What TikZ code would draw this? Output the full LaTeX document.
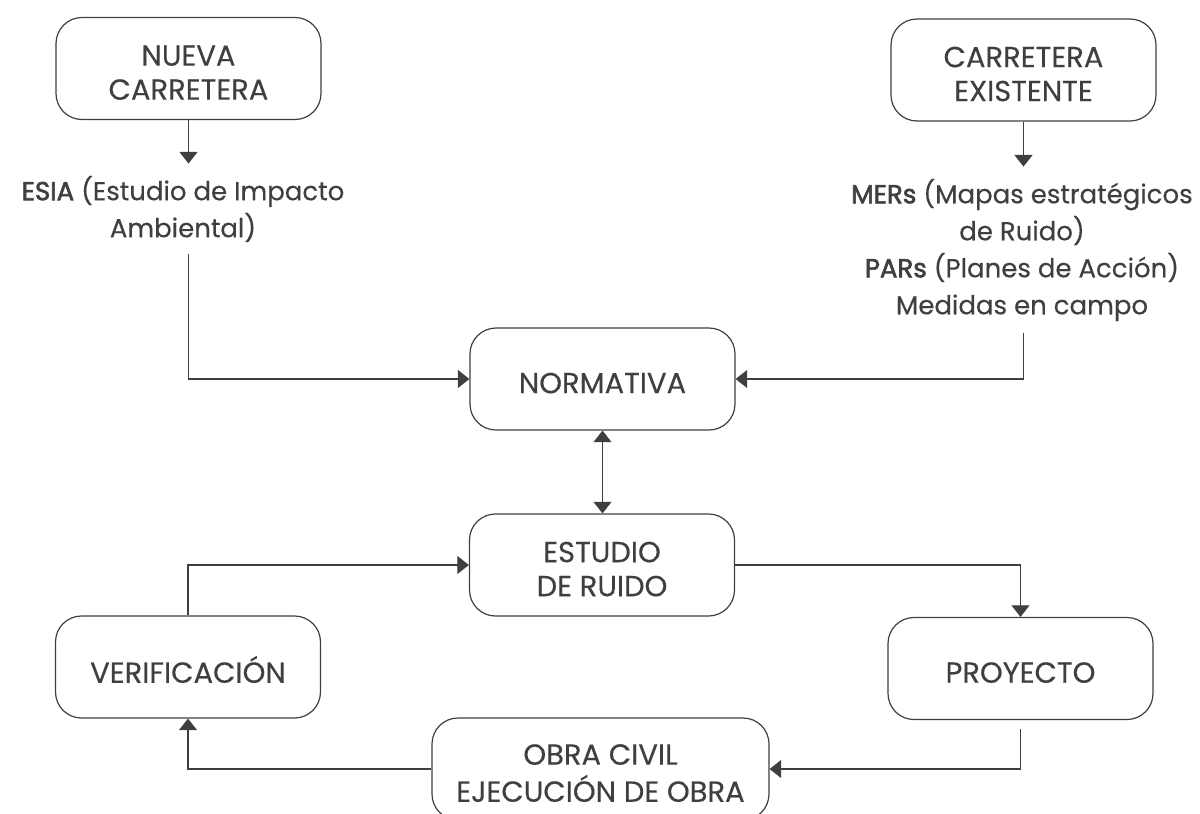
\documentclass[tikz,border=0pt]{standalone}
\usepackage{fontspec}
\setmainfont[FakeBold=0.3]{Poppins}
\newfontfamily\medfont[FakeBold=2.2]{Poppins}
\usetikzlibrary{arrows.meta}
\definecolor{ink}{HTML}{3F3F3F}
\newcommand\bxt[1]{\raisebox{-3.7pt}[\height][\depth]{\fontsize{14.5pt}{17pt}\selectfont\begin{tabular}{@{}c@{}}#1\end{tabular}}}
\tikzset{
  box/.style={draw=ink, line width=0.6pt, rounded corners=13pt, minimum width=132.5pt,
    minimum height=51pt, align=center, text=ink, inner sep=0pt},
  txt/.style={align=center, text=ink, inner xsep=0pt, inner ysep=6pt},
  arr/.style={draw=ink, line width=0.6pt, -{Triangle[length=5.8pt,width=9pt]}},
  arrb/.style={draw=ink, line width=0.6pt, {Triangle[length=5.8pt,width=9pt]}-{Triangle[length=5.8pt,width=9pt]}}
}
\begin{document}
\begin{tikzpicture}[x=0.5pt,y=-0.5pt,font=\fontsize{13pt}{18.5pt}\selectfont]
\useasboundingbox (0,0) rectangle (1200,814);
\clip (0,0) rectangle (1200,814);
\node[box] (nueva) at (188.5,68.5) {\bxt{NUEVA\\CARRETERA}};
\node[box] (exist) at (1023.5,70) {\bxt{CARRETERA\\EXISTENTE}};
\node[box] (norm) at (602.5,379) {\bxt{NORMATIVA}};
\node[box] (estudio) at (602,565) {\bxt{ESTUDIO\\DE RUIDO}};
\node[box] (verif) at (188,667) {\bxt{VERIFICACIÓN}};
\node[box] (proy) at (1020.5,668.5) {\bxt{PROYECTO}};
\node[box, minimum width=168.5pt] (obra) at (600.5,769) {\bxt{OBRA CIVIL\\EJECUCIÓN DE OBRA}};
\node[txt] (esia) at (183,209) {{\medfont ESIA} (Estudio de Impacto\\Ambiental)};
\node[txt] (mers) at (1022,250) {{\medfont MERs} (Mapas estratégicos\\de Ruido)\\{\medfont PARs} (Planes de Acción)\\Medidas en campo};
\draw[arr] (nueva.south) -- (nueva.south |- esia.north);
\draw[arr] (nueva.south |- esia.south) |- (norm.west);
\draw[arr] (exist.south) -- (exist.south |- mers.north);
\draw[arr] (exist.south |- mers.south) |- (norm.east);
\draw[arrb] (norm.south) -- (norm.south |- estudio.north);
\draw[arr] (verif.north) |- (estudio.west);
\draw[arr] (estudio.east) -| (proy.north);
\draw[arr] ([yshift=-4.5pt]proy.south) |- (obra.east);
\draw[arr] (obra.west) -| (verif.south);
\end{tikzpicture}
\end{document}
